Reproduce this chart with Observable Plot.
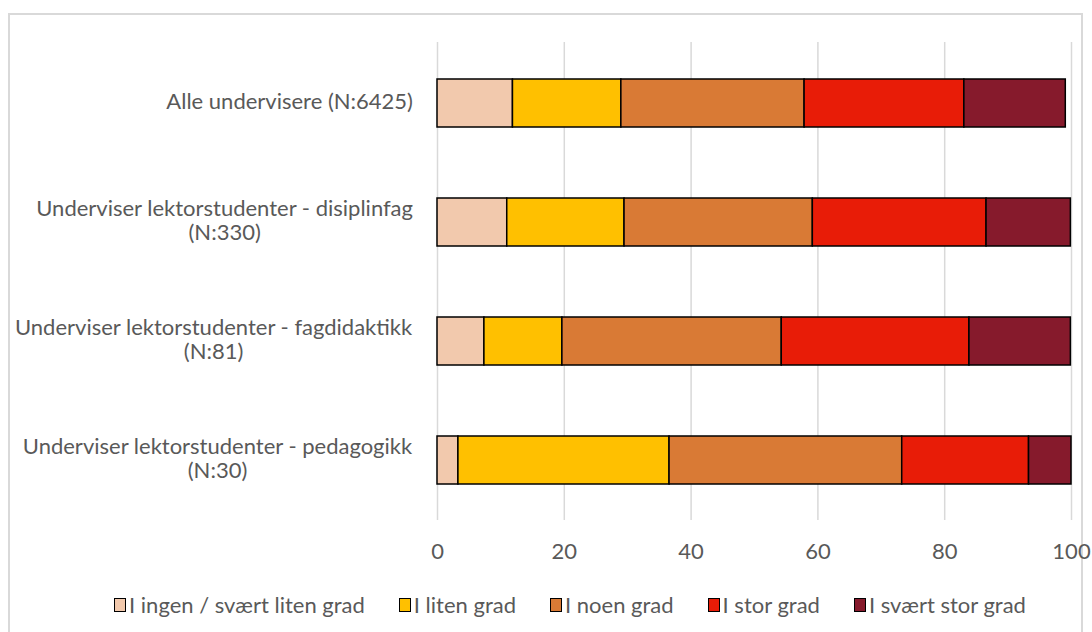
<!DOCTYPE html>
<html>
<head>
<meta charset="utf-8">
<script src="https://cdn.jsdelivr.net/npm/d3@7"></script>
<script src="https://cdn.jsdelivr.net/npm/@observablehq/plot@0.6"></script>
<style>
  html, body { margin: 0; padding: 0; background: #fff; width: 1092px; height: 632px; overflow: hidden; }
  #frame { position: absolute; left: 8px; top: 13px; width: 1075px; height: 700px; border: 2px solid #d9d9d9; box-sizing: border-box; }
  #chart { position: absolute; left: 0; top: 0; }
  #legend { position: absolute; left: 0; top: 591px; width: 1140px; display: flex; justify-content: center; gap: 34px;
            font-family: Lato, sans-serif; font-size: 22px; color: #595959; }
  .item { display: flex; align-items: center; gap: 3px; white-space: nowrap; }
  .sw { width: 10px; height: 12px; border: 1.5px solid #000; box-sizing: content-box; }
</style>
</head>
<body>
<div id="frame"></div>
<div id="chart"></div>
<div id="legend"></div>
<script>
const categories = [
  "Alle undervisere (N:6425)",
  "Underviser lektorstudenter - disiplinfag\n(N:330)",
  "Underviser lektorstudenter - fagdidaktikk\n(N:81)",
  "Underviser lektorstudenter - pedagogikk\n(N:30)"
];
const seriesNames = ["I ingen / svært liten grad", "I liten grad", "I noen grad", "I stor grad", "I svært stor grad"];
const seriesColors = ["#f2c9ad", "#ffc000", "#d97a35", "#e81c07", "#861a2c"];
const ingen  = [11.9, 11.0, 7.4, 3.3];
const liten  = [17.1, 18.5, 12.3, 33.3];
const noen   = [28.9, 29.7, 34.6, 36.7];
const stor   = [25.2, 27.4, 29.6, 20.0];
const svaert = [16.0, 13.3, 16.0, 6.7];
const xTicks = [0, 20, 40, 60, 80, 100];

const seriesValues = [ingen, liten, noen, stor, svaert];
const data = [];
categories.forEach((c, i) => {
  seriesNames.forEach((s, j) => data.push({cat: c, series: s, value: seriesValues[j][i]}));
});

const FONT = "Lato, sans-serif";
const plot = Plot.plot({
  width: 1092,
  height: 580,
  marginLeft: 437,
  marginRight: 21,
  marginTop: 42,
  marginBottom: 60,
  style: {fontFamily: FONT, fontSize: "22px", color: "#595959", background: "transparent"},
  x: {domain: [0, 100], ticks: xTicks, label: null},
  y: {domain: categories, paddingInner: 0.6, paddingOuter: 0.3, label: null, axis: null},
  color: {domain: seriesNames, range: seriesColors},
  marks: [
    Plot.ruleX(xTicks, {stroke: "#d9d9d9", strokeWidth: 1.5}),
    Plot.barX(data, Plot.stackX({x: "value", y: "cat", fill: "series", stroke: "#000", strokeWidth: 1.5})),
    Plot.axisX({ticks: xTicks, tickSize: 0, tickPadding: 23, fill: "#595959", fontSize: 22, label: null}),
    Plot.text(categories, {y: d => d, text: d => d, frameAnchor: "left", textAnchor: "middle",
      lineHeight: 1.1, fill: "#595959", fontSize: 22, dx: -150, dy: -2, className: "ylab"})
  ]
});
document.getElementById("chart").append(plot);

// align each (centered) label block so that its right edge sits 24px left of the axis
plot.querySelectorAll(".ylab text").forEach(t => {
  const b = t.getBBox();
  const ctm = t.getCTM();
  const right = (b.x + b.width) + (ctm ? ctm.e : 0);
  const shift = 413 - right;
  const tr = t.getAttribute("transform") || "";
  t.setAttribute("transform", `translate(${shift},0) ` + tr);
});

const legend = document.getElementById("legend");
seriesNames.forEach((s, j) => {
  const it = document.createElement("div");
  it.className = "item";
  const sw = document.createElement("span");
  sw.className = "sw";
  sw.style.background = seriesColors[j];
  const tx = document.createElement("span");
  tx.textContent = s;
  it.append(sw, tx);
  legend.append(it);
});
</script>
</body>
</html>
